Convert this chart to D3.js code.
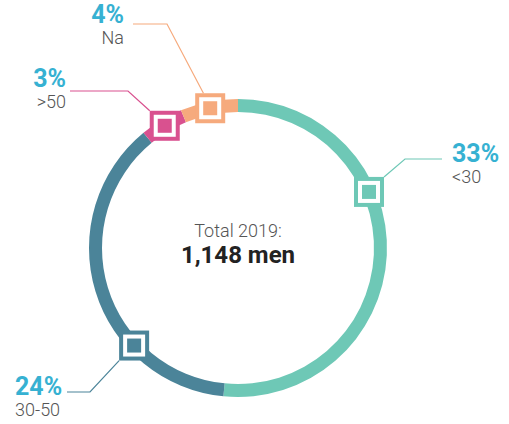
<!DOCTYPE html>
<html>
<head>
<meta charset="utf-8">
<script src="https://cdn.jsdelivr.net/npm/d3@7"></script>
<style>
  html, body { margin: 0; padding: 0; background: #fff; }
  svg { display: block; font-family: Roboto, "Noto Sans", sans-serif; }
</style>
</head>
<body>
<svg id="chart" width="509" height="424"></svg>
<script>
// Age groups of men, 2019 (share in %)
const categories = ["<30", "30-50", ">50", "Na"];
const shares = [33, 24, 3, 4];
const colors = ["#6ec8b6", "#4b8499", "#d9518f", "#f6aa7d"];
const totalLabel = "Total 2019:";
const totalValue = "1,148 men";

// Marker position along each arc (0 = start, 1 = end) and label placement
const markerAt = [0.36, 0.305, 0.5, 0.5];
const labelLayout = [
  { elbow: [405, 159], end: [442, 159], x: 452, y: 162, anchor: "start", corner: [1, -1] },
  { elbow: [90, 392], end: [67, 392], x: 15, y: 395, anchor: "start", corner: [-1, 1] },
  { elbow: [128, 91], end: [70, 91], x: 66, y: 87, anchor: "end", corner: [-1, -1] },
  { elbow: [167, 24], end: [133, 24], x: 124, y: 23, anchor: "end", corner: [-0.45, -1] }
];

const cx = 238, cy = 248, rOuter = 149, rInner = 136;
const rMid = (rOuter + rInner) / 2;
const markerSize = 30, whiteSize = 22, coreSize = 14;

const svg = d3.select("#chart");
const g = svg.append("g").attr("transform", `translate(${cx},${cy})`);

const data = categories.map((c, i) => ({ category: c, value: shares[i], color: colors[i], i }));
const pie = d3.pie().sort(null).value(d => d.value);
const arcs = pie(data);
const arc = d3.arc().innerRadius(rInner).outerRadius(rOuter);

g.selectAll("path.seg")
  .data(arcs)
  .join("path")
  .attr("class", "seg")
  .attr("d", arc)
  .attr("fill", d => d.data.color);

// Marker centres in page coordinates
const markers = arcs.map((a, i) => {
  const ang = a.startAngle + (a.endAngle - a.startAngle) * markerAt[i];
  return { x: cx + rMid * Math.sin(ang), y: cy - rMid * Math.cos(ang), d: a.data };
});

// Leader lines
svg.selectAll("polyline.leader")
  .data(markers)
  .join("polyline")
  .attr("class", "leader")
  .attr("fill", "none")
  .attr("stroke", d => d.d.color)
  .attr("stroke-width", 1.2)
  .attr("points", (m, i) => {
    const L = labelLayout[i];
    const sx = m.x + L.corner[0] * markerSize / 2;
    const sy = m.y + L.corner[1] * markerSize / 2;
    return [[sx, sy], L.elbow, L.end].map(p => p.join(",")).join(" ");
  });

// Square markers
const mk = svg.selectAll("g.marker")
  .data(markers)
  .join("g")
  .attr("class", "marker")
  .attr("transform", m => `translate(${m.x},${m.y})`);
mk.append("rect")
  .attr("x", -markerSize / 2).attr("y", -markerSize / 2)
  .attr("width", markerSize).attr("height", markerSize)
  .attr("fill", m => m.d.color);
mk.append("rect")
  .attr("x", -whiteSize / 2).attr("y", -whiteSize / 2)
  .attr("width", whiteSize).attr("height", whiteSize)
  .attr("fill", "#fff");
mk.append("rect")
  .attr("x", -coreSize / 2).attr("y", -coreSize / 2)
  .attr("width", coreSize).attr("height", coreSize)
  .attr("fill", m => m.d.color);

// Labels
const lbl = svg.selectAll("g.label")
  .data(data)
  .join("g")
  .attr("class", "label");
lbl.append("text")
  .attr("x", (d, i) => labelLayout[i].x)
  .attr("y", (d, i) => labelLayout[i].y)
  .attr("text-anchor", (d, i) => labelLayout[i].anchor)
  .attr("font-size", 25)
  .attr("font-weight", 700)
  .attr("fill", "#36b1d2")
  .text(d => d.value + "%");
lbl.append("text")
  .attr("x", (d, i) => labelLayout[i].x)
  .attr("y", (d, i) => labelLayout[i].y + 21)
  .attr("text-anchor", (d, i) => labelLayout[i].anchor)
  .attr("font-size", 18)
  .attr("font-weight", 300)
  .attr("fill", "#555")
  .text(d => d.category);

// Centre total
svg.append("text")
  .attr("x", cx).attr("y", 237)
  .attr("text-anchor", "middle")
  .attr("font-size", 18)
  .attr("font-weight", 300)
  .attr("fill", "#555")
  .text(totalLabel);
svg.append("text")
  .attr("x", cx).attr("y", 263)
  .attr("text-anchor", "middle")
  .attr("font-size", 24)
  .attr("font-weight", 700)
  .attr("fill", "#222")
  .text(totalValue);
</script>
</body>
</html>
